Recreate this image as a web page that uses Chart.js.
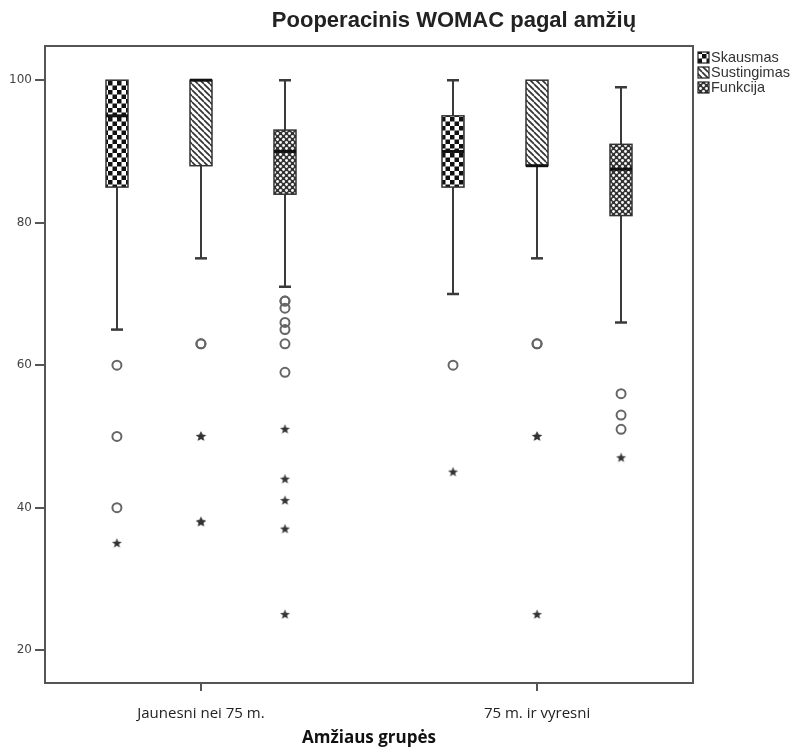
<!DOCTYPE html>
<html>
<head>
<meta charset="utf-8">
<script src="https://cdn.jsdelivr.net/npm/chart.js@4.4.1/dist/chart.umd.min.js"></script>
<style>
  html, body { margin: 0; padding: 0; background: #fff; }
</style>
</head>
<body>
<canvas id="chart" width="802" height="749"></canvas>
<script>
// categories and series
const groups = ['Jaunesni nei 75 m.', '75 m. ir vyresni'];
const seriesNames = ['Skausmas', 'Sustingimas', 'Funkcija'];
const yTickValues = [20, 40, 60, 80, 100];

// box statistics, one value per age group
const skausmasQ1 = [85, 85];
const skausmasMedian = [95, 90];
const skausmasQ3 = [100, 95];
const skausmasLow = [65, 70];
const skausmasHigh = [100, 100];

const sustingimasQ1 = [88, 88];
const sustingimasMedian = [100, 88];
const sustingimasQ3 = [100, 100];
const sustingimasLow = [75, 75];
const sustingimasHigh = [100, 100];

const funkcijaQ1 = [84, 81];
const funkcijaMedian = [90, 87.5];
const funkcijaQ3 = [93, 91];
const funkcijaLow = [71, 66];
const funkcijaHigh = [100, 99];

// outliers (circles) and extremes (stars), per age group
const skausmasOutliers = [[60, 50, 40], [60]];
const skausmasExtremes = [[35], [45]];
const sustingimasOutliers = [[63, 63], [63, 63]];
const sustingimasExtremes = [[50, 50, 38, 38], [50, 50, 25]];
const funkcijaOutliers = [[69, 69, 68, 66, 65, 63, 59], [56, 53, 51]];
const funkcijaExtremes = [[51, 44, 41, 37, 25], [47]];

const boxes = [
    { q1: skausmasQ1, med: skausmasMedian, q3: skausmasQ3, low: skausmasLow, high: skausmasHigh, out: skausmasOutliers, ext: skausmasExtremes },
    { q1: sustingimasQ1, med: sustingimasMedian, q3: sustingimasQ3, low: sustingimasLow, high: sustingimasHigh, out: sustingimasOutliers, ext: sustingimasExtremes },
    { q1: funkcijaQ1, med: funkcijaMedian, q3: funkcijaQ3, low: funkcijaLow, high: funkcijaHigh, out: funkcijaOutliers, ext: funkcijaExtremes }
];

// position of each series inside its group (x units)
const seriesOffset = [-0.25, 0, 0.25];
const BOX_HALF = 11;
const CAP_HALF = 6;

// fill patterns (SPSS style)
function makeTile(size, draw) {
    const c = document.createElement('canvas');
    c.width = size;
    c.height = size;
    draw(c.getContext('2d'), size);
    return c;
}

const checkerTile = makeTile(9, (g, s) => {
    g.fillStyle = '#fff';
    g.fillRect(0, 0, s, s);
    g.fillStyle = '#111';
    g.fillRect(0, 0, 4.5, 4.5);
    g.fillRect(4.5, 4.5, 4.5, 4.5);
});

const stripeTile = makeTile(6, (g, s) => {
    g.fillStyle = '#fff';
    g.fillRect(0, 0, s, s);
    g.strokeStyle = '#333';
    g.lineWidth = 1.7;
    for (const k of [-s, 0, s]) {
        g.beginPath();
        g.moveTo(k, 0);
        g.lineTo(k + s, s);
        g.stroke();
    }
});

const dotTile = makeTile(6, (g, s) => {
    g.fillStyle = '#333';
    g.fillRect(0, 0, s, s);
    g.fillStyle = '#fafafa';
    for (const [px, py] of [[1.5, 1.5], [4.5, 4.5]]) {
        g.beginPath();
        g.arc(px, py, 1.45, 0, Math.PI * 2);
        g.fill();
    }
});

const tiles = [checkerTile, stripeTile, dotTile];

// filled five point star for extreme values
const starImg = makeTile(13, (g, s) => {
    const cx = s / 2, cy = s / 2, ro = 5.2, ri = 2.2;
    g.fillStyle = '#333';
    g.beginPath();
    for (let i = 0; i < 10; i++) {
        const r = i % 2 === 0 ? ro : ri;
        const a = -Math.PI / 2 + i * Math.PI / 5;
        const px = cx + r * Math.cos(a), py = cy + r * Math.sin(a);
        if (i === 0) g.moveTo(px, py); else g.lineTo(px, py);
    }
    g.closePath();
    g.fill();
});

// scatter datasets for outliers and extremes
const datasets = [];
boxes.forEach((b, si) => {
    const outPts = [];
    const extPts = [];
    groups.forEach((g, gi) => {
        const xv = gi + 1 + seriesOffset[si];
        b.out[gi].forEach(v => outPts.push({ x: xv, y: v }));
        b.ext[gi].forEach(v => extPts.push({ x: xv, y: v }));
    });
    datasets.push({
        label: seriesNames[si] + ' outliers',
        data: outPts,
        pointStyle: 'circle',
        pointRadius: 4.5,
        borderWidth: 2,
        borderColor: '#666',
        backgroundColor: 'rgba(0,0,0,0)'
    });
    datasets.push({
        label: seriesNames[si] + ' extremes',
        data: extPts,
        pointStyle: starImg,
        pointRadius: 6
    });
});

const boxPlugin = {
    id: 'spssBoxes',
    beforeDatasetsDraw(chart) {
        const { ctx, scales: { x, y } } = chart;
        ctx.save();
        boxes.forEach((b, si) => {
            const pattern = ctx.createPattern(tiles[si], 'repeat');
            groups.forEach((g, gi) => {
                const cx = Math.round(x.getPixelForValue(gi + 1 + seriesOffset[si]));
                const yQ1 = y.getPixelForValue(b.q1[gi]);
                const yQ3 = y.getPixelForValue(b.q3[gi]);
                const yMed = y.getPixelForValue(b.med[gi]);
                const yLow = y.getPixelForValue(b.low[gi]);
                const yHigh = y.getPixelForValue(b.high[gi]);

                // whiskers
                ctx.strokeStyle = '#3a3a3a';
                ctx.lineWidth = 2;
                ctx.beginPath();
                ctx.moveTo(cx, yQ1);
                ctx.lineTo(cx, yLow);
                if (b.high[gi] > b.q3[gi]) {
                    ctx.moveTo(cx, yQ3);
                    ctx.lineTo(cx, yHigh);
                }
                ctx.stroke();
                ctx.lineWidth = 2.5;
                ctx.beginPath();
                ctx.moveTo(cx - CAP_HALF, yLow);
                ctx.lineTo(cx + CAP_HALF, yLow);
                if (b.high[gi] > b.q3[gi]) {
                    ctx.moveTo(cx - CAP_HALF, yHigh);
                    ctx.lineTo(cx + CAP_HALF, yHigh);
                }
                ctx.stroke();

                // box
                ctx.fillStyle = pattern;
                ctx.fillRect(cx - BOX_HALF, yQ3, BOX_HALF * 2, yQ1 - yQ3);
                ctx.strokeStyle = '#333';
                ctx.lineWidth = 1.5;
                ctx.strokeRect(cx - BOX_HALF, yQ3, BOX_HALF * 2, yQ1 - yQ3);

                // median
                ctx.strokeStyle = '#111';
                ctx.lineWidth = 3;
                ctx.beginPath();
                ctx.moveTo(cx - BOX_HALF, yMed);
                ctx.lineTo(cx + BOX_HALF, yMed);
                ctx.stroke();
            });
        });
        ctx.restore();
    },
    afterDraw(chart) {
        const { ctx, chartArea } = chart;
        ctx.save();

        // frame
        ctx.strokeStyle = '#555';
        ctx.lineWidth = 2;
        ctx.strokeRect(chartArea.left, chartArea.top, chartArea.right - chartArea.left, chartArea.bottom - chartArea.top);

        // title
        ctx.fillStyle = '#222';
        ctx.font = 'bold 22px "Liberation Sans", Arial, sans-serif';
        ctx.textAlign = 'center';
        ctx.textBaseline = 'middle';
        ctx.fillText('Pooperacinis WOMAC pagal amžių', 454, 21);

        // legend
        ctx.textAlign = 'left';
        ctx.font = '14.5px "Liberation Sans", Arial, sans-serif';
        seriesNames.forEach((name, i) => {
            const top = 52 + i * 15;
            ctx.fillStyle = ctx.createPattern(tiles[i], 'repeat');
            ctx.fillRect(698, top, 11, 11);
            ctx.strokeStyle = '#222';
            ctx.lineWidth = 1.2;
            ctx.strokeRect(698, top, 11, 11);
            ctx.fillStyle = '#333';
            ctx.fillText(name, 711, top + 6);
        });
        ctx.restore();
    }
};

new Chart(document.getElementById('chart'), {
    type: 'scatter',
    data: { datasets: datasets },
    plugins: [boxPlugin],
    options: {
        responsive: false,
        animation: false,
        layout: { padding: { top: 46, right: 109, left: 0, bottom: 0 } },
        plugins: {
            legend: { display: false },
            tooltip: { enabled: false }
        },
        scales: {
            x: {
                type: 'linear',
                min: 0.536,
                max: 2.464,
                afterBuildTicks: scale => { scale.ticks = groups.map((g, i) => ({ value: i + 1 })); },
                afterFit: scale => { scale.height = 66; },
                ticks: {
                    callback: value => groups[value - 1],
                    font: { family: '"Open Sans", sans-serif', size: 15 },
                    color: '#222',
                    padding: 14,
                    maxRotation: 0
                },
                grid: { drawOnChartArea: false, tickLength: 8, color: '#555', lineWidth: 2 },
                border: { display: false },
                title: {
                    display: true,
                    text: 'Amžiaus grupės',
                    font: { family: '"Open Sans", sans-serif', size: 17, weight: 'bold' },
                    color: '#111',
                    padding: { top: 0, bottom: 1 }
                }
            },
            y: {
                type: 'linear',
                min: 15.4,
                max: 104.8,
                afterBuildTicks: scale => { scale.ticks = yTickValues.map(v => ({ value: v })); },
                afterFit: scale => { scale.width = 45; },
                ticks: {
                    font: { family: '"DejaVu Sans", sans-serif', size: 12 },
                    color: '#444',
                    padding: 3
                },
                grid: { drawOnChartArea: false, tickLength: 10, color: '#555', lineWidth: 2 },
                border: { display: false }
            }
        }
    }
});
</script>
</body>
</html>
